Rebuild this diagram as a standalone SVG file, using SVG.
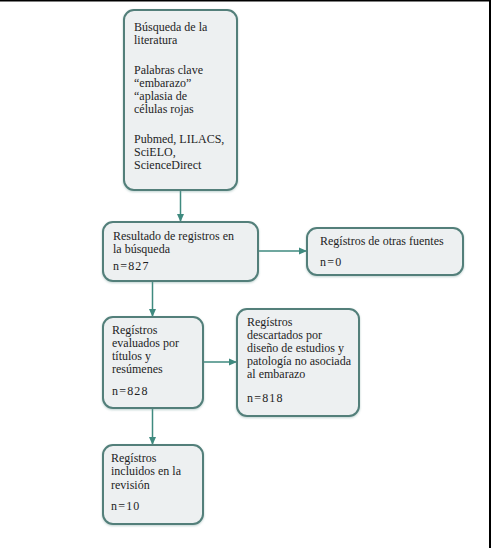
<svg xmlns="http://www.w3.org/2000/svg" width="491" height="548" viewBox="0 0 491 548">
<style>
.box{fill:#edf0f1;stroke:#527f7a;stroke-width:2}
.t{font-family:"Liberation Serif","DejaVu Serif",serif;font-size:12px;fill:#1e1e1e}
.n{letter-spacing:1.2px}
.c{stroke:#3f8a7f;stroke-width:1.5;fill:none}
</style>
<defs>
<marker id="ah" markerWidth="8" markerHeight="8" refX="7" refY="4" orient="auto" markerUnits="userSpaceOnUse">
<path d="M0,0.5 L8,4 L0,7.5 Z" fill="#3f8a7f"/>
</marker>
<filter id="sh" x="-10%" y="-10%" width="120%" height="120%">
<feGaussianBlur in="SourceAlpha" stdDeviation="1.2"/>
<feOffset dx="0" dy="0.5" result="b"/>
<feFlood flood-color="#6f9a95" flood-opacity="0.45"/>
<feComposite in2="b" operator="in"/>
<feMerge><feMergeNode/><feMergeNode in="SourceGraphic"/></feMerge>
</filter>
</defs>
<rect width="491" height="548" fill="#ffffff"/>
<rect x="0" y="0" width="491" height="1.5" fill="#000"/>
<rect x="489" y="0" width="2" height="548" fill="#000"/>
<g id="connectors">
<line class="c" x1="180.5" y1="190" x2="180.5" y2="221" marker-end="url(#ah)"/>
<line class="c" x1="258" y1="251" x2="306" y2="251" marker-end="url(#ah)"/>
<line class="c" x1="152.5" y1="281" x2="152.5" y2="316" marker-end="url(#ah)"/>
<line class="c" x1="203" y1="362" x2="236" y2="362" marker-end="url(#ah)"/>
<line class="c" x1="152.5" y1="408" x2="152.5" y2="444" marker-end="url(#ah)"/>
</g>
<g id="busqueda">
<rect class="box" filter="url(#sh)" x="124" y="10" width="113" height="180" rx="10"/>
<text class="t" x="134" y="31">Búsqueda de la</text>
<text class="t" x="134" y="44">literatura</text>
<text class="t" x="134" y="74">Palabras clave</text>
<text class="t" x="134" y="87">“embarazo”</text>
<text class="t" x="134" y="100">“aplasia de</text>
<text class="t" x="134" y="113">células rojas</text>
<text class="t" x="134" y="143">Pubmed, LILACS,</text>
<text class="t" x="134" y="156">SciELO,</text>
<text class="t" x="134" y="169">ScienceDirect</text>
</g>
<g id="resultado">
<rect class="box" filter="url(#sh)" x="103" y="222" width="155" height="59" rx="10"/>
<text class="t" x="113" y="240">Resultado de registros en</text>
<text class="t" x="113" y="253">la búsqueda</text>
<text class="t n" x="113" y="270">n=827</text>
</g>
<g id="otras">
<rect class="box" filter="url(#sh)" x="307" y="228" width="156" height="47" rx="10"/>
<text class="t" x="320" y="245">Regístros de otras fuentes</text>
<text class="t n" x="320" y="266">n=0</text>
</g>
<g id="evaluados">
<rect class="box" filter="url(#sh)" x="103" y="317" width="100" height="91" rx="10"/>
<text class="t" x="112" y="334">Regístros</text>
<text class="t" x="112" y="347">evaluados por</text>
<text class="t" x="112" y="360">títulos y</text>
<text class="t" x="112" y="373">resúmenes</text>
<text class="t n" x="112" y="395">n=828</text>
</g>
<g id="descartados">
<rect class="box" filter="url(#sh)" x="237" y="309" width="122" height="107" rx="10"/>
<text class="t" x="247" y="326">Regístros</text>
<text class="t" x="247" y="339">descartados por</text>
<text class="t" x="247" y="352">diseño de estudios y</text>
<text class="t" x="247" y="365">patología no asociada</text>
<text class="t" x="247" y="378">al embarazo</text>
<text class="t n" x="247" y="402">n=818</text>
</g>
<g id="incluidos">
<rect class="box" filter="url(#sh)" x="103" y="445" width="100" height="79" rx="10"/>
<text class="t" x="111" y="462">Regístros</text>
<text class="t" x="111" y="475">incluidos en la</text>
<text class="t" x="111" y="489">revisión</text>
<text class="t n" x="111" y="510">n=10</text>
</g>
</svg>
